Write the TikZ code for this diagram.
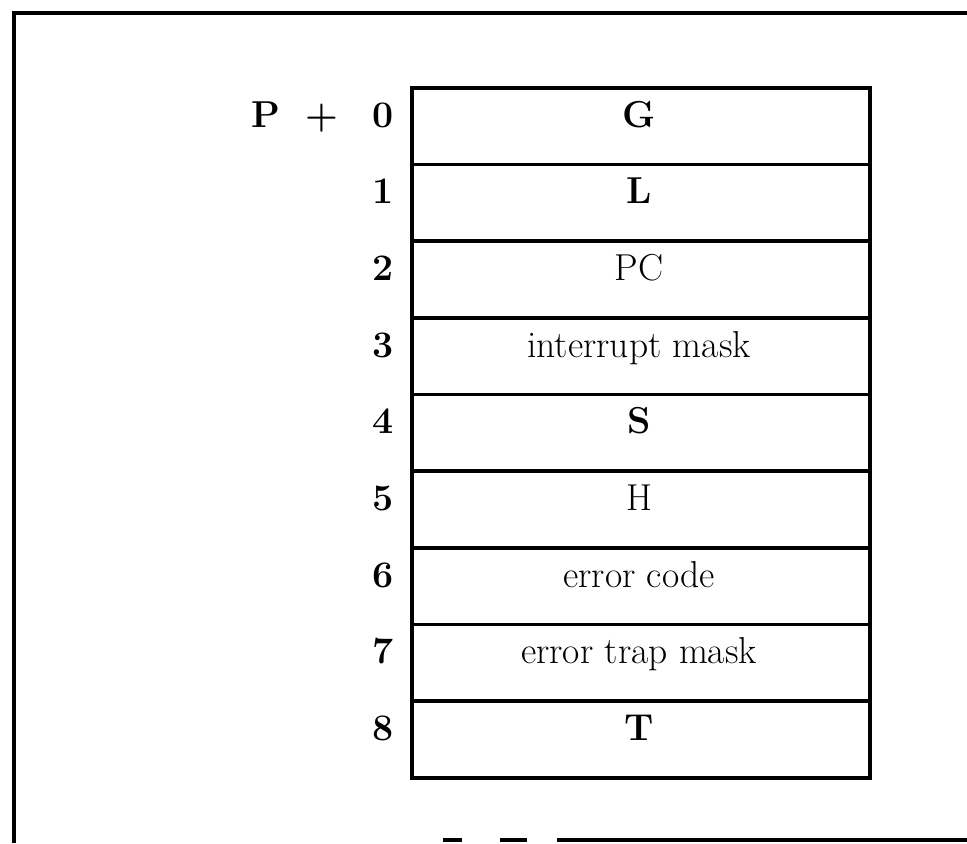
\documentclass[tikz,border=0pt]{standalone}
\begin{document}
\begin{tikzpicture}[x=0.4pt,y=-0.4pt,line width=1.4pt,
  cell/.style={draw,rectangle,minimum width=183.2pt,minimum height=30.67pt,inner sep=0pt,anchor=north west},
  lab/.style={anchor=base,inner sep=0pt,font=\fontsize{15}{18}\selectfont},
  blab/.style={anchor=base,inner sep=0pt,font=\fontsize{15}{18}\selectfont\bfseries}]
\useasboundingbox (0,0) rectangle (967,843);
% outer frame
\coordinate (fbl) at (14,843);
\coordinate (ftl) at (14,13);
\coordinate (ftr) at (967,13);
\draw (fbl) -- (ftl) -- (ftr);
\coordinate (b1) at (443,840); \coordinate (b2) at (462,840);
\coordinate (b3) at (500,840); \coordinate (b4) at (527,840);
\coordinate (b5) at (557,840); \coordinate (b6) at (967,840);
\draw (b1) -- (b2);
\draw (b3) -- (b4);
\draw (b5) -- (b6);
% cells
\foreach \i in {0,...,8}{
  \node[cell] (c\i) at (410,{86+\i*76.67}) {};
}
% contents
\node[blab] (t0) at (639,127) {G};
\node[blab] (t1) at (639,203.7) {L};
\node[lab]  (t2) at (639,280.3) {PC};
\node[lab]  (t3) at (639,357) {interrupt mask};
\node[blab] (t4) at (639,433.7) {S};
\node[lab]  (t5) at (639,510.3) {H};
\node[lab]  (t6) at (639,587) {error code};
\node[lab]  (t7) at (639,663.7) {error trap mask};
\node[blab] (t8) at (639,740.3) {T};
% offsets
\node[blab] (p) at (266,127) {P};
\node[blab] (plus) at (322,127) {+};
\foreach \i in {0,...,8}{
  \node[blab] (n\i) at (383,{127+\i*76.67}) {\i};
}
\end{tikzpicture}
\end{document}
